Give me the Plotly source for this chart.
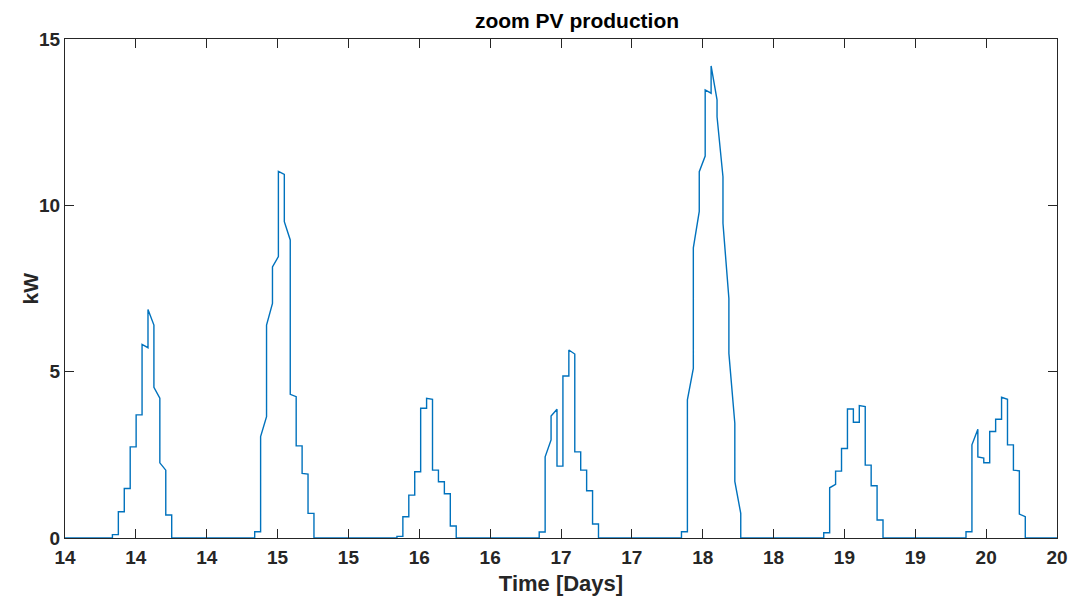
import numpy as np
import plotly.graph_objects as go

# ---- data (kW), hourly start/end values for hours 8..17 of each day ----
first_hour = 8
day1_start = [0.10, 0.79, 1.49, 2.74, 3.70, 5.82, 6.87, 4.53, 2.26, 0.69]
day1_end   = [0.10, 0.79, 1.49, 2.74, 3.70, 5.72, 6.40, 4.20, 2.04, 0.69]
day2_start = [0.19, 3.05, 6.40, 8.15, 11.02, 9.51, 4.32, 2.77, 1.94, 0.74]
day2_end   = [0.19, 3.65, 7.05, 8.46, 10.93, 8.96, 4.25, 2.77, 1.92, 0.74]
day3_start = [0.05, 0.64, 1.29, 1.99, 3.90, 4.20, 2.04, 1.69, 1.33, 0.36]
day3_end   = [0.05, 0.64, 1.29, 1.99, 3.90, 4.17, 2.04, 1.69, 1.33, 0.36]
day4_start = [0.18, 2.44, 3.67, 2.16, 4.87, 5.65, 2.59, 2.04, 1.42, 0.42]
day4_end   = [0.18, 2.95, 3.87, 2.16, 4.87, 5.53, 2.59, 2.04, 1.42, 0.42]
day5_start = [0.19, 4.15, 8.72, 11.01, 13.47, 14.19, 12.66, 9.46, 5.55, 1.70]
day5_end   = [0.19, 5.10, 9.82, 11.48, 13.37, 13.17, 10.86, 7.20, 3.45, 0.74]
day6_start = [0.16, 1.51, 2.01, 2.69, 3.88, 3.48, 3.98, 2.19, 1.57, 0.54]
day6_end   = [0.16, 1.61, 2.01, 2.69, 3.88, 3.48, 3.95, 2.19, 1.57, 0.54]
day7_start = [0.19, 2.80, 2.44, 2.26, 3.20, 3.57, 4.23, 2.80, 2.04, 0.72]
day7_end   = [0.19, 3.27, 2.40, 2.26, 3.20, 3.57, 4.17, 2.80, 2.02, 0.64]

t_start = 13.5          # days (midnight of first day)
t_end = 20.473          # days
tick_labels = ["14", "14", "14", "15", "15", "16", "16", "17", "17",
               "18", "18", "19", "19", "20", "20"]
y_ticks = [0, 5, 10, 15]

days_start = [day1_start, day2_start, day3_start, day4_start, day5_start, day6_start, day7_start]
days_end = [day1_end, day2_end, day3_end, day4_end, day5_end, day6_end, day7_end]

# build the series: value held/linear within each hour, jumps at hour boundaries
xs = [t_start]
ys = [0.0]
for d, (s_vals, e_vals) in enumerate(zip(days_start, days_end)):
    for i, (s, e) in enumerate(zip(s_vals, e_vals)):
        h0 = 24 * d + first_hour + i
        if i == 0:
            xs.append(t_start + h0 / 24.0)
            ys.append(0.0)
        xs.append(t_start + h0 / 24.0)
        ys.append(s)
        xs.append(t_start + (h0 + 1) / 24.0)
        ys.append(e)
    h_last = 24 * d + first_hour + len(s_vals)
    xs.append(t_start + h_last / 24.0)
    ys.append(0.0)
xs.append(t_end)
ys.append(0.0)

fig = go.Figure()
fig.add_trace(go.Scatter(x=xs, y=ys, mode="lines",
                         line=dict(color="#0072BD", width=1.4),
                         showlegend=False, hoverinfo="skip"))

font_family = "Liberation Sans, Arial, Helvetica, sans-serif"
axis_color = "#262626"
tickvals = list(np.linspace(t_start, t_end, len(tick_labels)))

fig.update_layout(
    template="none",
    width=1071, height=596,
    margin=dict(l=65, r=14, t=39, b=58, autoexpand=False),
    paper_bgcolor="white", plot_bgcolor="white",
    font=dict(family=font_family, size=19, color=axis_color, weight="bold"),
    title=dict(text="zoom PV production", x=577 / 1071, xref="container", xanchor="center",
               y=1 - 21 / 596, yref="container", yanchor="middle",
               font=dict(family=font_family, size=21, color="#000000", weight="bold")),
    xaxis=dict(range=[t_start, t_end], tickmode="array", tickvals=tickvals,
               ticktext=tick_labels, ticks="inside", ticklen=9, tickwidth=1,
               tickcolor=axis_color, showline=True, linecolor=axis_color,
               linewidth=1, mirror="ticks", showgrid=False, zeroline=False,
               automargin=False, ticklabelstandoff=2,
               tickfont=dict(family=font_family, size=19, color=axis_color, weight="bold"),
               title=dict(text="Time [Days]", standoff=8,
                          font=dict(family=font_family, size=22, color=axis_color, weight="bold"))),
    yaxis=dict(range=[0, 15], tickmode="array", tickvals=y_ticks,
               ticks="inside", ticklen=9, tickwidth=1, tickcolor=axis_color,
               showline=True, linecolor=axis_color, linewidth=1, mirror="ticks",
               showgrid=False, zeroline=False, automargin=False,
               tickfont=dict(family=font_family, size=19, color=axis_color, weight="bold")),
    annotations=[dict(text="kW", textangle=-90, xref="paper", yref="paper",
                      x=(30 - 65) / 992, y=0.5, xanchor="center", yanchor="middle",
                      showarrow=False,
                      font=dict(family=font_family, size=21, color=axis_color, weight="bold"))],
)

fig.write_html("out.html")
